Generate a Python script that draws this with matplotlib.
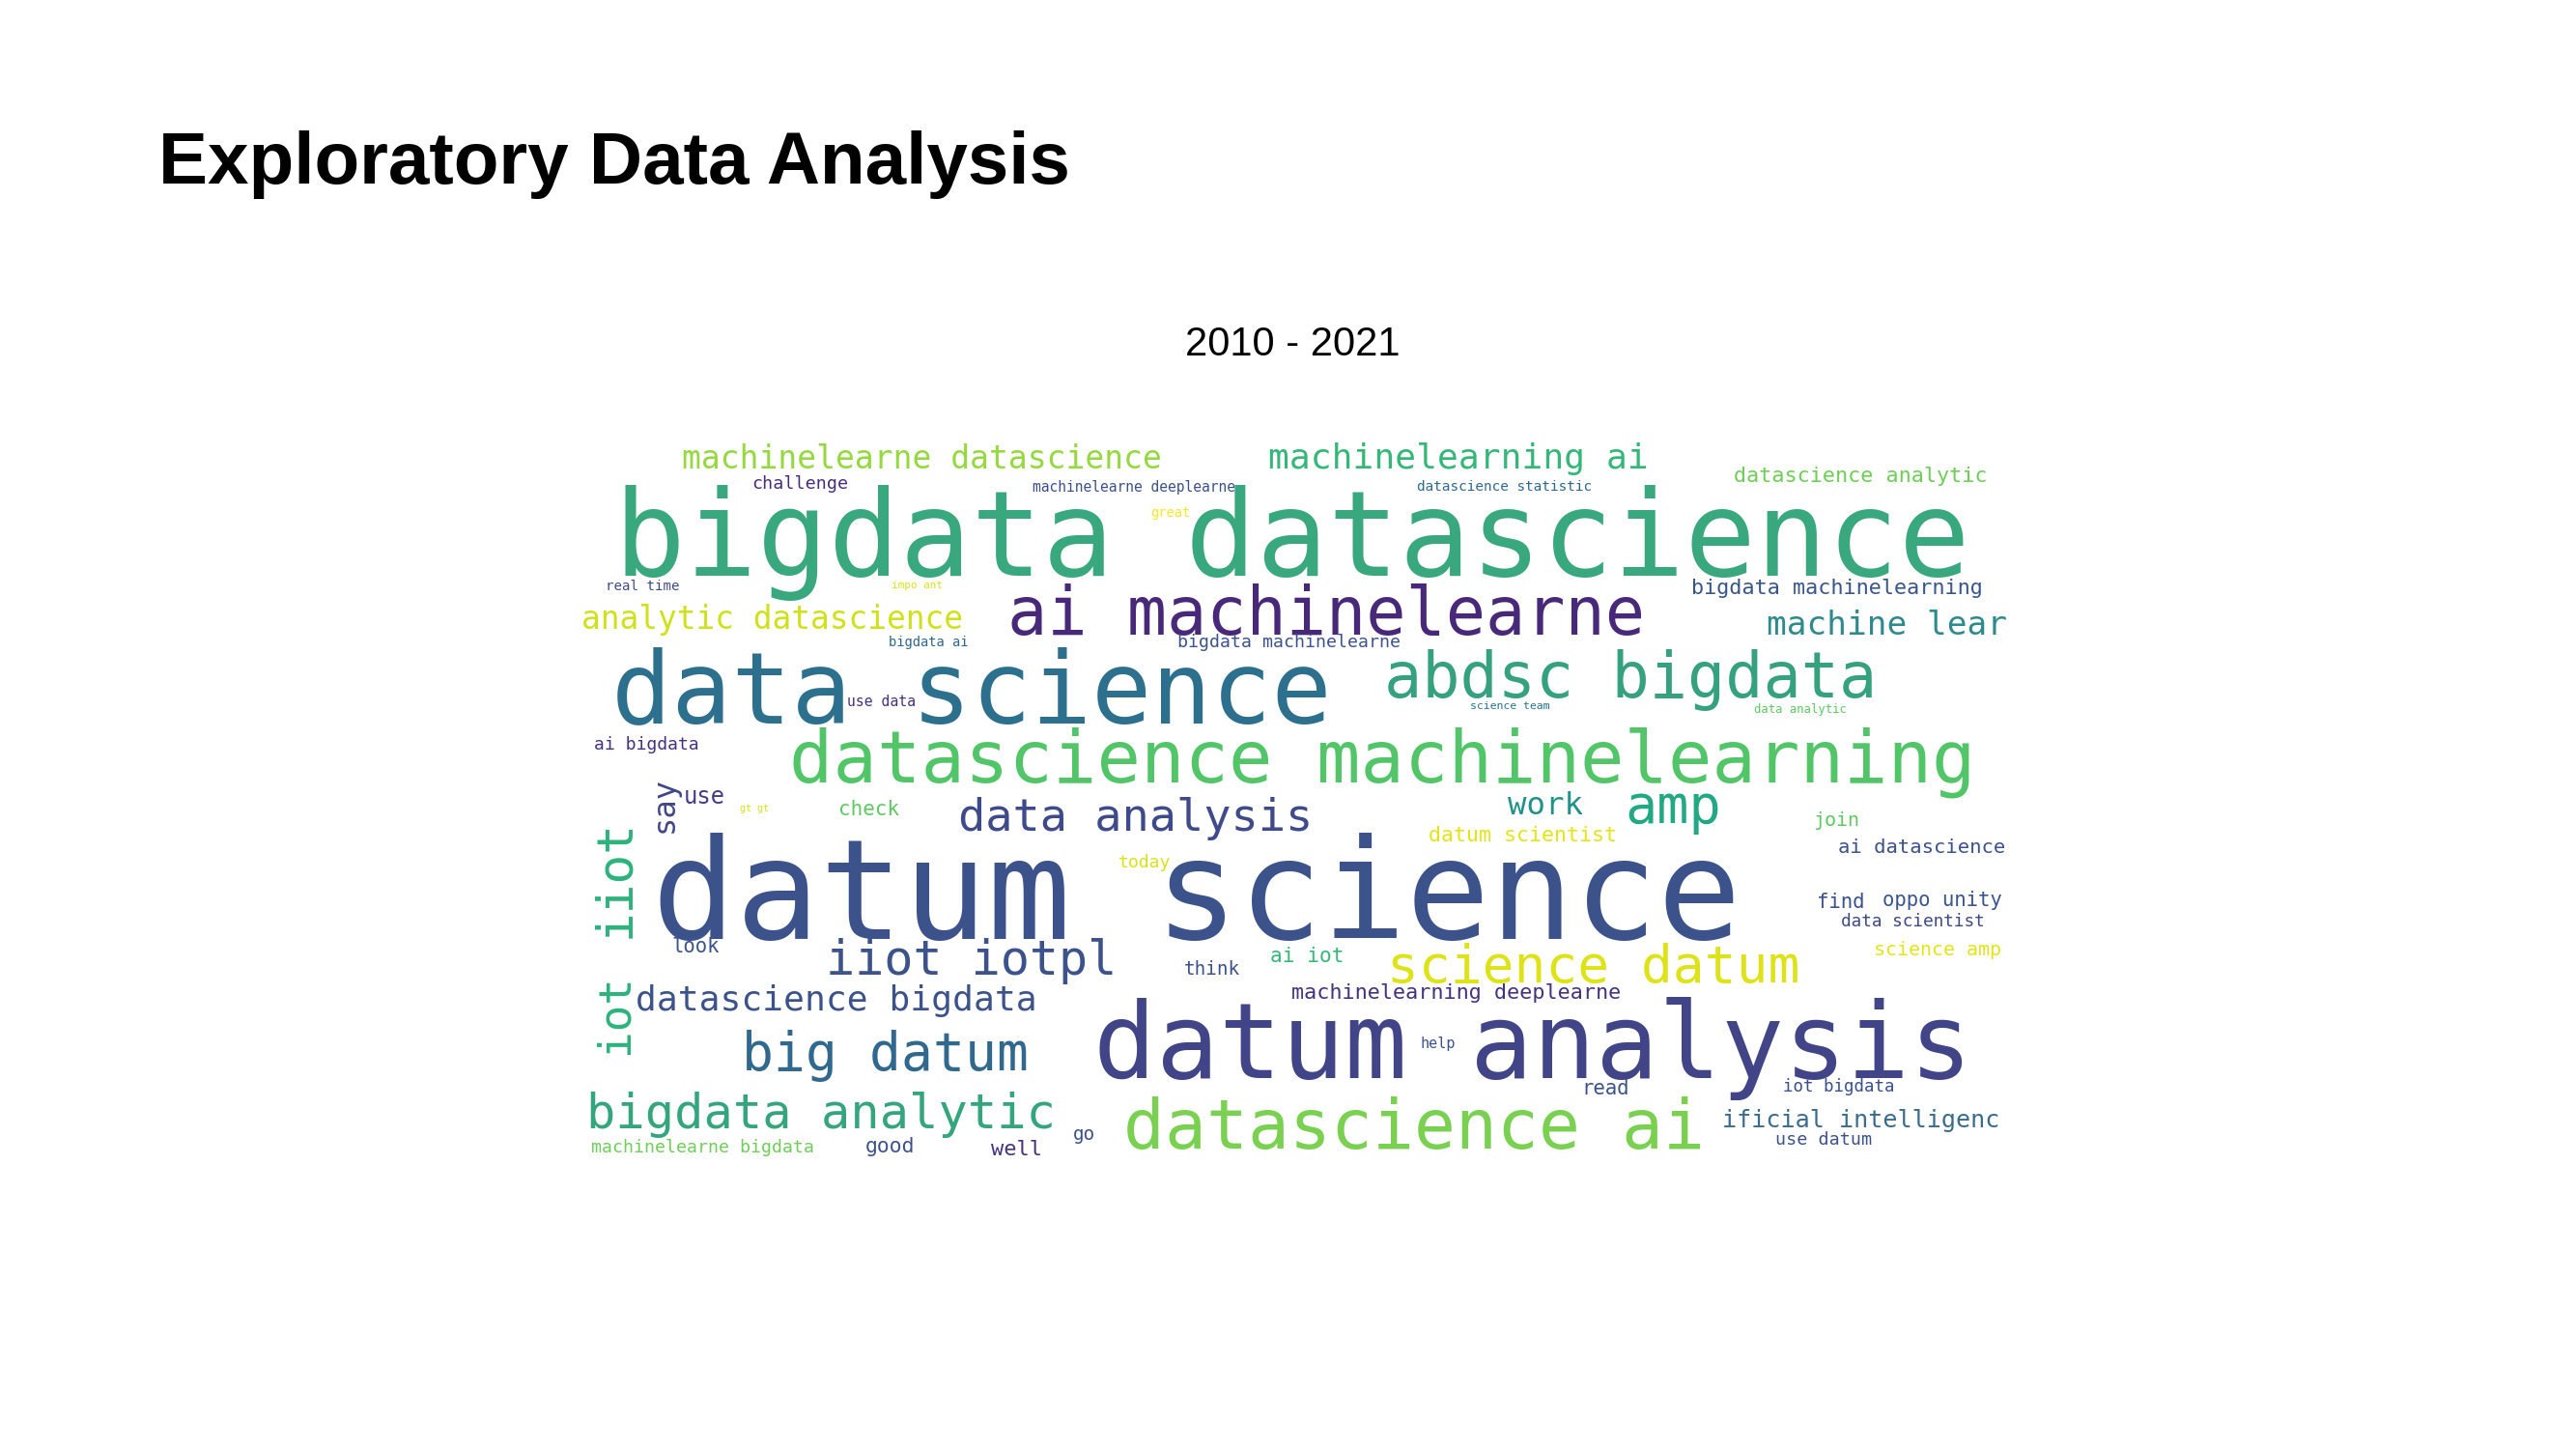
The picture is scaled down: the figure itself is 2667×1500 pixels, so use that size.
"""Word cloud slide: Exploratory Data Analysis, 2010 - 2021."""
import matplotlib.pyplot as plt

W_PX, H_PX = 2667, 1500
REF_W, REF_H = 1560, 877.5  # coordinate frame used when reading the picture

TITLE = "Exploratory Data Analysis"
SUBTITLE = "2010 - 2021"

# words of the cloud
words = [
    "machinelearne datascience", "machinelearning ai", "datascience analytic",
    "challenge", "machinelearne deeplearne", "datascience statistic",
    "bigdata datascience", "great", "real time", "impo ant",
    "bigdata machinelearning", "ai machinelearne", "analytic datascience",
    "machine lear", "bigdata ai", "bigdata machinelearne", "data science",
    "abdsc bigdata", "use data", "science team", "data analytic",
    "datascience machinelearning", "ai bigdata", "say", "use", "gt gt",
    "check", "data analysis", "work", "amp", "join", "ai datascience",
    "iiot", "datum science", "datum scientist", "today", "find",
    "oppo unity", "data scientist", "look", "iiot iotpl", "science datum",
    "ai iot", "think", "science amp", "iot", "datascience bigdata",
    "machinelearning deeplearne", "big datum", "datum analysis", "help",
    "bigdata analytic", "datascience ai", "read", "iot bigdata",
    "ificial intelligenc", "machinelearne bigdata", "good", "well", "go",
    "use datum",
]

# layout: left x, right x, centre y
x0 = [413, 768, 1050, 455, 625, 858, 372, 697, 367, 540, 1024, 610, 352,
      1070, 538, 713, 370, 838, 513, 890, 1062, 478, 360, 395, 414, 448,
      508, 580, 913, 984, 1098, 1113, 360, 395, 865, 677, 1100, 1140, 1115,
      407, 500, 840, 769, 717, 1135, 360, 385, 782, 449, 662, 860, 355, 680,
      958, 1080, 1043, 358, 524, 600, 650, 1075]
x1 = [712, 1005, 1208, 515, 752, 968, 1218, 722, 413, 572, 1206, 1008, 590,
      1220, 588, 852, 820, 1146, 556, 940, 1120, 1218, 426, 410, 440, 466,
      546, 802, 960, 1044, 1127, 1217, 385, 1075, 983, 710, 1130, 1215, 1205,
      437, 682, 1097, 815, 752, 1215, 385, 635, 988, 628, 1210, 882, 648,
      1043, 988, 1150, 1216, 497, 555, 632, 664, 1135]
yc = [280, 280, 291, 296, 298, 298, 325, 314, 358, 358, 359, 373, 377, 381,
      392, 392, 418, 412, 428, 431, 433, 461, 454, 490, 485, 493, 493, 497,
      490, 490, 500, 516, 535, 540, 509, 525, 549, 548, 561, 576, 583, 587,
      582, 590, 578, 617, 608, 604, 640, 632, 635, 676, 684, 662, 661, 681,
      698, 697, 699, 690, 693]
# vertical words: extent along y (top, bottom)
vertical = {"say": (473, 508), "iiot": (498, 572), "iot": (592, 642)}

colors = ["#95d840", "#35b779", "#6ece58", "#472c7a", "#3b528b", "#31688e",
          "#3aa87e", "#fde725", "#3e4a89", "#d8e219", "#39568c", "#482878",
          "#d0e11c", "#2e8a8c", "#31688e", "#3b528b", "#2d708e", "#35a17e",
          "#46327e", "#2c728e", "#5ec962", "#52c569", "#46327e", "#404688",
          "#433e85", "#d8e219", "#5ec962", "#3e4a89", "#21918c", "#22a884",
          "#5ec962", "#3b528b", "#2db27d", "#3b528b", "#e5e419", "#d8e219",
          "#3b528b", "#39568c", "#3e4a89", "#3b528b", "#3b528b", "#dde318",
          "#35b779", "#3b528b", "#e5e419", "#2db27d", "#3b528b", "#46337e",
          "#31688e", "#414487", "#3b528b", "#35a57e", "#7ad151", "#3b528b",
          "#3b528b", "#3b6c8e", "#6ece58", "#3b528b", "#46327e", "#3b528b",
          "#3b528b"]

SCALE = W_PX / REF_W
fig = plt.figure(figsize=(W_PX / 100, H_PX / 100), dpi=100)
fig.patch.set_facecolor("white")


def fx(x):
    return x / REF_W


def fy(y):
    return 1 - y / REF_H


fig.text(fx(96), fy(100), TITLE, fontsize=55, weight="bold",
         family="Liberation Sans", ha="left", va="center")
fig.text(fx(783), fy(209), SUBTITLE, fontsize=30,
         family="Liberation Sans", ha="center", va="center")

# mono glyph advance is 0.602 em; 1 pt = 100/72 px
for w, a, b, y, c in zip(words, x0, x1, yc, colors):
    n = len(w)
    if w in vertical:
        top, bot = vertical[w]
        fs = 0.97 * (bot - top) * SCALE / (n * 0.602 * 100 / 72)
        fig.text(fx((a + b) / 2), fy((top + bot) / 2 - 3), w, fontsize=fs,
                 family="DejaVu Sans Mono", color=c, rotation=90,
                 ha="center", va="center")
        continue
    fs = 0.97 * (b - a) * SCALE / (n * 0.602 * 100 / 72)
    fig.text(fx(a), fy(y - 4), w, fontsize=fs, family="DejaVu Sans Mono",
             color=c, ha="left", va="center_baseline")

fig.savefig("out.png", dpi=100, facecolor="white")
